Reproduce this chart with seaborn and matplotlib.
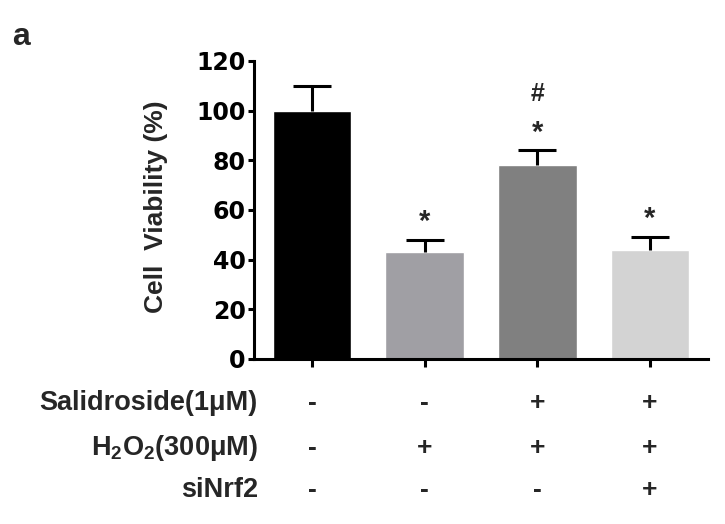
import matplotlib
matplotlib.use("Agg")
import matplotlib.pyplot as plt
import matplotlib.transforms as mtransforms
import seaborn as sns
import pandas as pd

# data
groups = ["Control", "H2O2", "Sal+H2O2", "Sal+H2O2+siNrf2"]
viability = [100, 43, 78, 44]
sem = [10, 5, 6, 5]
star_marks = ["", "*", "*", "*"]
hash_marks = ["", "", "#", ""]
bar_colors = ["#000000", "#a09fa4", "#808080", "#d3d3d3"]

row_labels = ["Salidroside(1μM)", "H$_2$O$_2$(300μM)", "siNrf2"]
salidroside = ["-", "-", "+", "+"]
h2o2 = ["-", "+", "+", "+"]
sinrf2 = ["-", "-", "-", "+"]

sns.set_style("ticks")
plt.rcParams["mathtext.default"] = "regular"

df = pd.DataFrame({"group": groups, "viability": viability})

fig = plt.figure(figsize=(7.25, 5.24), dpi=100)
ax = fig.add_axes([0.3503, 0.3149, 0.9766 - 0.3503, 0.8836 - 0.3149])

sns.barplot(data=df, x="group", y="viability", hue="group", order=groups,
            palette=bar_colors, saturation=1, width=0.7, legend=False,
            errorbar=None, ax=ax)
# upper-only error bars (hide the lower cap)
_, caps, _ = ax.errorbar(range(len(groups)), viability, yerr=[[0] * len(sem), sem],
                         fmt="none", ecolor="black", elinewidth=2.2, capsize=13.5,
                         capthick=2.2, zorder=1)
caps[0].set_visible(False)

# significance marks
for i, (v, e) in enumerate(zip(viability, sem)):
    if star_marks[i]:
        ax.text(i, v + e + 4, star_marks[i], ha="center", va="baseline",
                fontsize=21, fontweight="bold", family="Liberation Sans")
    if hash_marks[i]:
        ax.text(i, v + e + 20, hash_marks[i], ha="center", va="baseline",
                fontsize=18, fontweight="bold", family="Liberation Sans")

ax.set_xlim(-0.515, 3.515)
ax.set_ylim(0, 120)
ax.set_yticks(range(0, 121, 20))
ax.set_xticks(range(len(groups)))
ax.set_xticklabels([])
ax.set_xlabel("")
for lab in ax.get_yticklabels():
    lab.set_fontfamily("DejaVu Sans")
    lab.set_fontweight("bold")
    lab.set_fontsize(17)
ax.tick_params(axis="y", length=4.5, width=2.2, pad=1.5, colors="black")
ax.tick_params(axis="x", length=6, width=2.2, colors="black")
sns.despine(ax=ax)
for s in ["left", "bottom"]:
    ax.spines[s].set_linewidth(2.2)
    ax.spines[s].set_color("black")

ax.set_ylabel("Cell  Viability (%)", fontsize=19, fontweight="bold",
              family="Liberation Sans")
ax.yaxis.set_label_coords(-0.19, 0.512)

# treatment table under the bars
trans = mtransforms.blended_transform_factory(ax.transData, fig.transFigure)
row_y = [(524 - 410) / 524, (524 - 455) / 524, (524 - 497) / 524]
for label, signs, y in zip(row_labels, [salidroside, h2o2, sinrf2], row_y):
    fig.text(258 / 725, y, label, ha="right", va="baseline", fontsize=19.5,
             fontweight="bold", family="Liberation Sans")
    for i, s in enumerate(signs):
        ax.text(i, y, s, transform=trans, ha="center", va="baseline",
                fontsize=19, fontweight="bold", family="Liberation Sans")

fig.text(12 / 725, (524 - 45) / 524, "a", fontsize=23, fontweight="bold",
         family="Liberation Sans")

fig.savefig("out.png", dpi=100)
